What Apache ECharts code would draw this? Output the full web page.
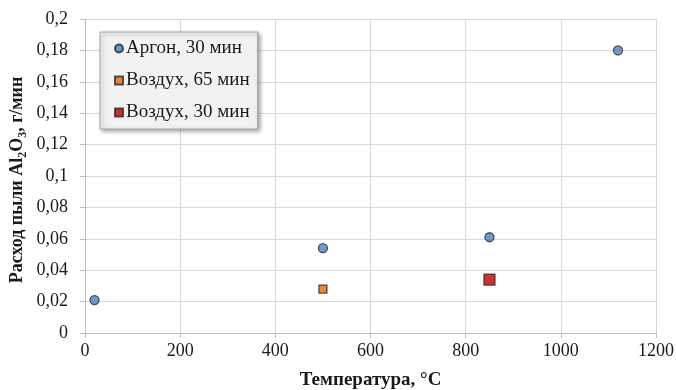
<!DOCTYPE html>
<html>
<head>
<meta charset="utf-8">
<script src="https://cdn.jsdelivr.net/npm/echarts@6/dist/echarts.min.js"></script>
<style>
html, body { margin: 0; padding: 0; background: #fff; }
#chart1 { width: 676px; height: 390px; }
</style>
</head>
<body>
<div id="chart1"></div>
<script>
// data: [temperature, consumption]
var argon30 = [[20, 0.021], [500, 0.054], [850, 0.061], [1120, 0.18]];
var air65 = [[500, 0.028]];
var air30 = [[850, 0.034]];
var seriesNames = ['Аргон, 30 мин', 'Воздух, 65 мин', 'Воздух, 30 мин'];

var dom = document.getElementById("chart1");
var myChart = echarts.init(dom);
var font = 'Liberation Serif';

var option = {
  animation: false,
  textStyle: { fontFamily: font },
  grid: { left: 85, right: 20, top: 19, bottom: 57, outerBoundsMode: 'none' },
  legend: {
    orient: 'vertical',
    left: 100,
    top: 32,
    data: seriesNames,
    backgroundColor: '#f2f2f2',
    borderColor: '#a6a6a6',
    borderWidth: 1,
    shadowColor: 'rgba(0,0,0,0.35)',
    shadowBlur: 4,
    shadowOffsetX: 2,
    shadowOffsetY: 2,
    padding: [7, 8, 7, 14],
    itemGap: 13,
    itemWidth: 8,
    itemHeight: 8,
    textStyle: { fontFamily: font, fontSize: 19, color: '#1a1a1a', padding: [0, 0, 0, -2] }
  },
  xAxis: {
    type: 'value',
    min: 0, max: 1200, interval: 200,
    name: 'Температура, °C',
    nameLocation: 'middle',
    nameGap: 38,
    nameMoveOverlap: false,
    nameTextStyle: { fontFamily: font, fontSize: 19, fontWeight: 'bold', color: '#1a1a1a' },
    axisLine: { onZero: false, lineStyle: { color: '#bfbfbf' } },
    axisTick: { show: true, length: 5, lineStyle: { color: '#bfbfbf' } },
    axisLabel: {
      fontFamily: font, fontSize: 18, color: '#1a1a1a', margin: 9,
      formatter: function (v) { return String(v); }
    },
    splitLine: { lineStyle: { color: '#d9d9d9' } }
  },
  yAxis: {
    type: 'value',
    min: 0, max: 0.2, interval: 0.02,
    name: '{a|Расход пыли Al}{s|2}{a|O}{s|3}{a|, г/мин}',
    nameLocation: 'middle',
    nameGap: 56,
    nameMoveOverlap: false,
    nameTextStyle: {
      padding: [0, 8, 0, 0],
      rich: {
        a: { fontFamily: font, fontSize: 18, fontWeight: 'bold', color: '#1a1a1a', lineHeight: 24, verticalAlign: 'middle' },
        s: { fontFamily: font, fontSize: 12, fontWeight: 'bold', color: '#1a1a1a', lineHeight: 24, verticalAlign: 'bottom' }
      }
    },
    axisLine: { show: true, lineStyle: { color: '#bfbfbf' } },
    axisTick: { show: true, length: 5, lineStyle: { color: '#bfbfbf' } },
    axisLabel: {
      fontFamily: font, fontSize: 18, color: '#1a1a1a', margin: 17,
      formatter: function (v) {
        return (Math.round(v * 100) / 100).toString().replace('.', ',');
      }
    },
    splitLine: { lineStyle: { color: '#d9d9d9' } }
  },
  series: [
    {
      name: seriesNames[0],
      type: 'scatter',
      data: argon30,
      symbol: 'circle',
      symbolSize: 9,
      itemStyle: { color: '#4f81bd', borderColor: '#1f2a38', borderWidth: 1.3 }
    },
    {
      name: seriesNames[1],
      type: 'scatter',
      data: air65,
      symbol: 'rect',
      symbolSize: 8,
      itemStyle: { color: '#e46c0a', borderColor: '#2a2a2a', borderWidth: 1.3 }
    },
    {
      name: seriesNames[2],
      type: 'scatter',
      data: air30,
      symbol: 'rect',
      symbolSize: 11,
      itemStyle: { color: '#c00000', borderColor: '#2a2a2a', borderWidth: 1.3 }
    }
  ]
};

myChart.setOption(option);
</script>
</body>
</html>
